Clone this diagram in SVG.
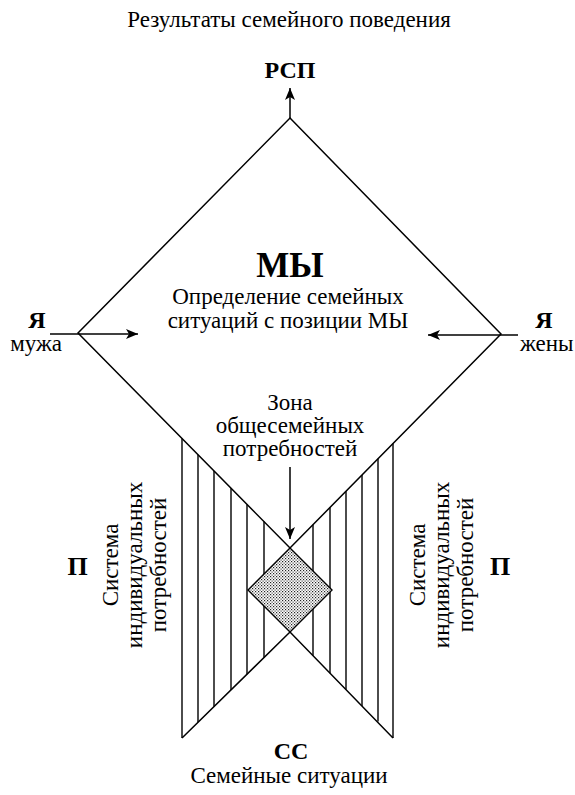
<svg xmlns="http://www.w3.org/2000/svg" width="575" height="795" viewBox="0 0 575 795">
<style>
.t{font-family:"Liberation Serif","Times New Roman",serif;font-size:23px;fill:#000;text-anchor:middle}
.b{font-family:"Liberation Serif","Times New Roman",serif;font-weight:bold;fill:#000;text-anchor:middle}
.ln{stroke:#000;stroke-width:1.5;fill:none}
.h{stroke:#000;stroke-width:1.4}
</style>
<defs>
<marker id="ah" viewBox="0 0 12 10" refX="12" refY="5" markerWidth="12" markerHeight="10" markerUnits="userSpaceOnUse" orient="auto">
<path d="M0,0 L12,5 L0,10 L3,5 Z" fill="#000"/>
</marker>
<pattern id="dots" width="3" height="3" patternUnits="userSpaceOnUse">
<rect width="3" height="3" fill="#fff"/>
<rect x="0" y="0" width="1.2" height="1.2" fill="#222"/>
<rect x="1.5" y="1.5" width="1.2" height="1.2" fill="#444"/>
</pattern>
</defs>

<rect width="575" height="795" fill="#fff"/>

<g id="title"><text class="t" x="289" y="27">Результаты семейного поведения</text></g>
<g id="rsp"><text class="b" x="290" y="78" font-size="24">РСП</text></g>

<g id="we">
<polygon class="ln" points="290,118 501,334 290,548 78,333"/>
<text class="b" x="290" y="277" font-size="35">МЫ</text>
<text class="t" x="288" y="304">Определение семейных</text>
<text class="t" x="288" y="328">ситуаций с позиции МЫ</text>
</g>

<g id="ya-husband">
<text class="b" x="37" y="328" font-size="24">Я</text>
<text class="t" x="62" y="351" font-size="22" style="text-anchor:end">мужа</text>
</g>
<g id="ya-wife">
<text class="b" x="544" y="328" font-size="24">Я</text>
<text class="t" x="520" y="351" font-size="22" style="text-anchor:start">жены</text>
</g>

<g id="zone-label">
<text class="t" x="290" y="410" font-size="22">Зона</text>
<text class="t" x="290" y="433" font-size="22">общесемейных</text>
<text class="t" x="290" y="456" font-size="22">потребностей</text>
</g>

<g id="needs-left">
<line class="h" x1="182" y1="438.5" x2="182" y2="738"/>
<line class="h" x1="198" y1="454.7" x2="198" y2="722.3"/>
<line class="h" x1="214" y1="470.9" x2="214" y2="706.6"/>
<line class="h" x1="231" y1="488.2" x2="231" y2="689.9"/>
<line class="h" x1="247" y1="504.4" x2="247" y2="674.2"/>
<line class="h" x1="264" y1="521.6" x2="264" y2="657.5"/>
<text class="t" transform="translate(118,565) rotate(-90)">Система</text>
<text class="t" transform="translate(142,565) rotate(-90)">индивидуальных</text>
<text class="t" transform="translate(166,565) rotate(-90)">потребностей</text>
<text class="b" x="77.5" y="575" font-size="26">П</text>
</g>

<g id="needs-right">
<line class="h" x1="313" y1="524.7" x2="313" y2="655.7"/>
<line class="h" x1="330" y1="507.4" x2="330" y2="673.2"/>
<line class="h" x1="346" y1="491.2" x2="346" y2="689.6"/>
<line class="h" x1="362" y1="475" x2="362" y2="706.1"/>
<line class="h" x1="378" y1="458.8" x2="378" y2="721.5"/>
<line class="h" x1="393" y1="443.5" x2="393" y2="738"/>
<text class="t" transform="translate(425,565) rotate(-90)">Система</text>
<text class="t" transform="translate(449,565) rotate(-90)">индивидуальных</text>
<text class="t" transform="translate(473,565) rotate(-90)">потребностей</text>
<text class="b" x="500" y="575" font-size="26">П</text>
</g>

<g id="family-situations">
<polyline class="ln" points="182,738 290,632 393,738"/>
<text class="b" x="291" y="759" font-size="24">СС</text>
<text class="t" x="289" y="783">Семейные ситуации</text>
</g>

<g id="common-zone">
<polygon points="290,548 332,590 290,632 248,590" fill="url(#dots)" stroke="#000" stroke-width="1.4"/>
</g>

<g id="connectors">
<line class="ln" x1="290" y1="118" x2="290" y2="88" marker-end="url(#ah)"/>
<line class="ln" x1="50" y1="334" x2="138" y2="334" marker-end="url(#ah)"/>
<line class="ln" x1="518" y1="335" x2="428" y2="335" marker-end="url(#ah)"/>
<line class="ln" x1="290" y1="467" x2="290" y2="539" marker-end="url(#ah)"/>
</g>
</svg>
